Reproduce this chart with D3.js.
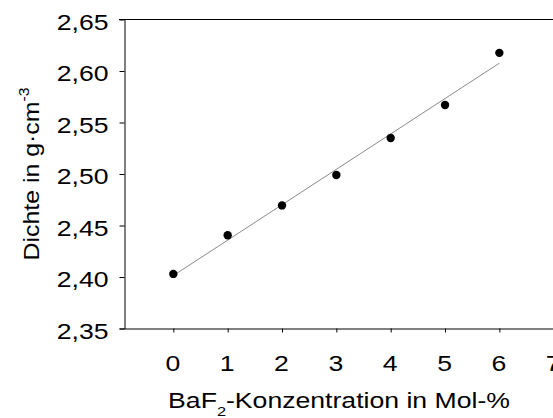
<!DOCTYPE html>
<html>
<head>
<meta charset="utf-8">
<script src="https://cdn.jsdelivr.net/npm/d3@7"></script>
<style>
  html, body { margin: 0; padding: 0; background: #fff; }
  svg { display: block; }
  text { font-family: "Liberation Sans", Arial, Helvetica, sans-serif; fill: #000; }
</style>
</head>
<body>
<svg id="chart" width="553" height="418"></svg>
<script>
// ---- data ----
const concentration = [0, 1, 2, 3, 4, 5, 6];
const density = [2.403, 2.4405, 2.4695, 2.499, 2.535, 2.567, 2.6176];
const xTicks = [0, 1, 2, 3, 4, 5, 6, 7];
const yTicks = [2.35, 2.40, 2.45, 2.50, 2.55, 2.60, 2.65];
const xDomain = [-1, 7];
const yDomain = [2.35, 2.65];

// ---- layout ----
const svg = d3.select("#chart");
const x = d3.scaleLinear().domain(xDomain).range([119, 553.7]);
const y = d3.scaleLinear().domain(yDomain).range([328.5, 19.5]);
const yAxisX = 124.5;
const fs = 22;
const stretch = 1.21;
const stretchY = 1.13;

// top frame line
svg.append("line")
  .attr("x1", x(xDomain[0])).attr("x2", x(xDomain[1]) + 5)
  .attr("y1", y(yDomain[1])).attr("y2", y(yDomain[1]))
  .attr("stroke", "#000").attr("stroke-width", 1);

// x axis
const gx = svg.append("g").attr("transform", `translate(0,${y(yDomain[0])})`)
  .call(d3.axisBottom(x).tickValues(xTicks).tickSize(4).tickSizeOuter(0).tickFormat(d3.format("d")));
gx.select(".domain").attr("stroke", "#000").attr("stroke-width", 1);
gx.selectAll(".tick line").attr("stroke", "#000");
gx.selectAll(".tick text")
  .attr("y", 0).attr("dy", 0)
  .attr("font-size", fs)
  .attr("font-family", null)
  .attr("text-anchor", "middle")
  .attr("transform", `translate(-1,42.3) scale(${stretch},1)`);

// y axis
const gy = svg.append("g").attr("transform", `translate(${yAxisX},0)`)
  .call(d3.axisLeft(y).tickValues(yTicks).tickSize(5).tickSizeOuter(0)
    .tickFormat(d => d.toFixed(2).replace(".", ",")));
gy.select(".domain").attr("stroke", "#000").attr("stroke-width", 1);
gy.selectAll(".tick line").attr("stroke", "#000");
gy.selectAll(".tick text")
  .attr("x", 0).attr("dy", 0)
  .attr("font-size", fs)
  .attr("font-family", null)
  .attr("text-anchor", "end")
  .attr("transform", `translate(-16,9.8) scale(${stretch},1)`);
svg.selectAll(".domain").attr("fill", "none");

// regression line (least squares of the data)
const mx = d3.mean(concentration), my = d3.mean(density);
const slope = d3.sum(concentration, (c, i) => (c - mx) * (density[i] - my)) /
              d3.sum(concentration, c => (c - mx) * (c - mx));
const icpt = my - slope * mx;
const xMin = d3.min(concentration), xMax = d3.max(concentration);
svg.append("line")
  .attr("x1", x(xMin)).attr("y1", y(icpt + slope * xMin))
  .attr("x2", x(xMax)).attr("y2", y(icpt + slope * xMax))
  .attr("stroke", "#8a8a8a").attr("stroke-width", 1);

// points
svg.append("g").selectAll("circle")
  .data(concentration.map((c, i) => ({c, d: density[i]})))
  .join("circle")
  .attr("cx", p => x(p.c)).attr("cy", p => y(p.d))
  .attr("r", 4.2).attr("fill", "#000");

// x label
const xl = svg.append("text")
  .attr("transform", `translate(339,407.5) scale(${stretch},1)`)
  .attr("text-anchor", "middle").attr("font-size", fs);
xl.append("tspan").text("BaF");
xl.append("tspan").attr("font-size", 13.5).attr("dy", 8.5).text("2");
xl.append("tspan").attr("dy", -8.5).text("-Konzentration in Mol-%");

// y label
const yl = svg.append("text")
  .attr("transform", `translate(38.5,174) rotate(-90) scale(${stretchY},1)`)
  .attr("text-anchor", "middle").attr("font-size", fs);
yl.append("tspan").text("Dichte in g·cm");
yl.append("tspan").attr("font-size", 14).attr("dy", -10).text("-3");
</script>
</body>
</html>
